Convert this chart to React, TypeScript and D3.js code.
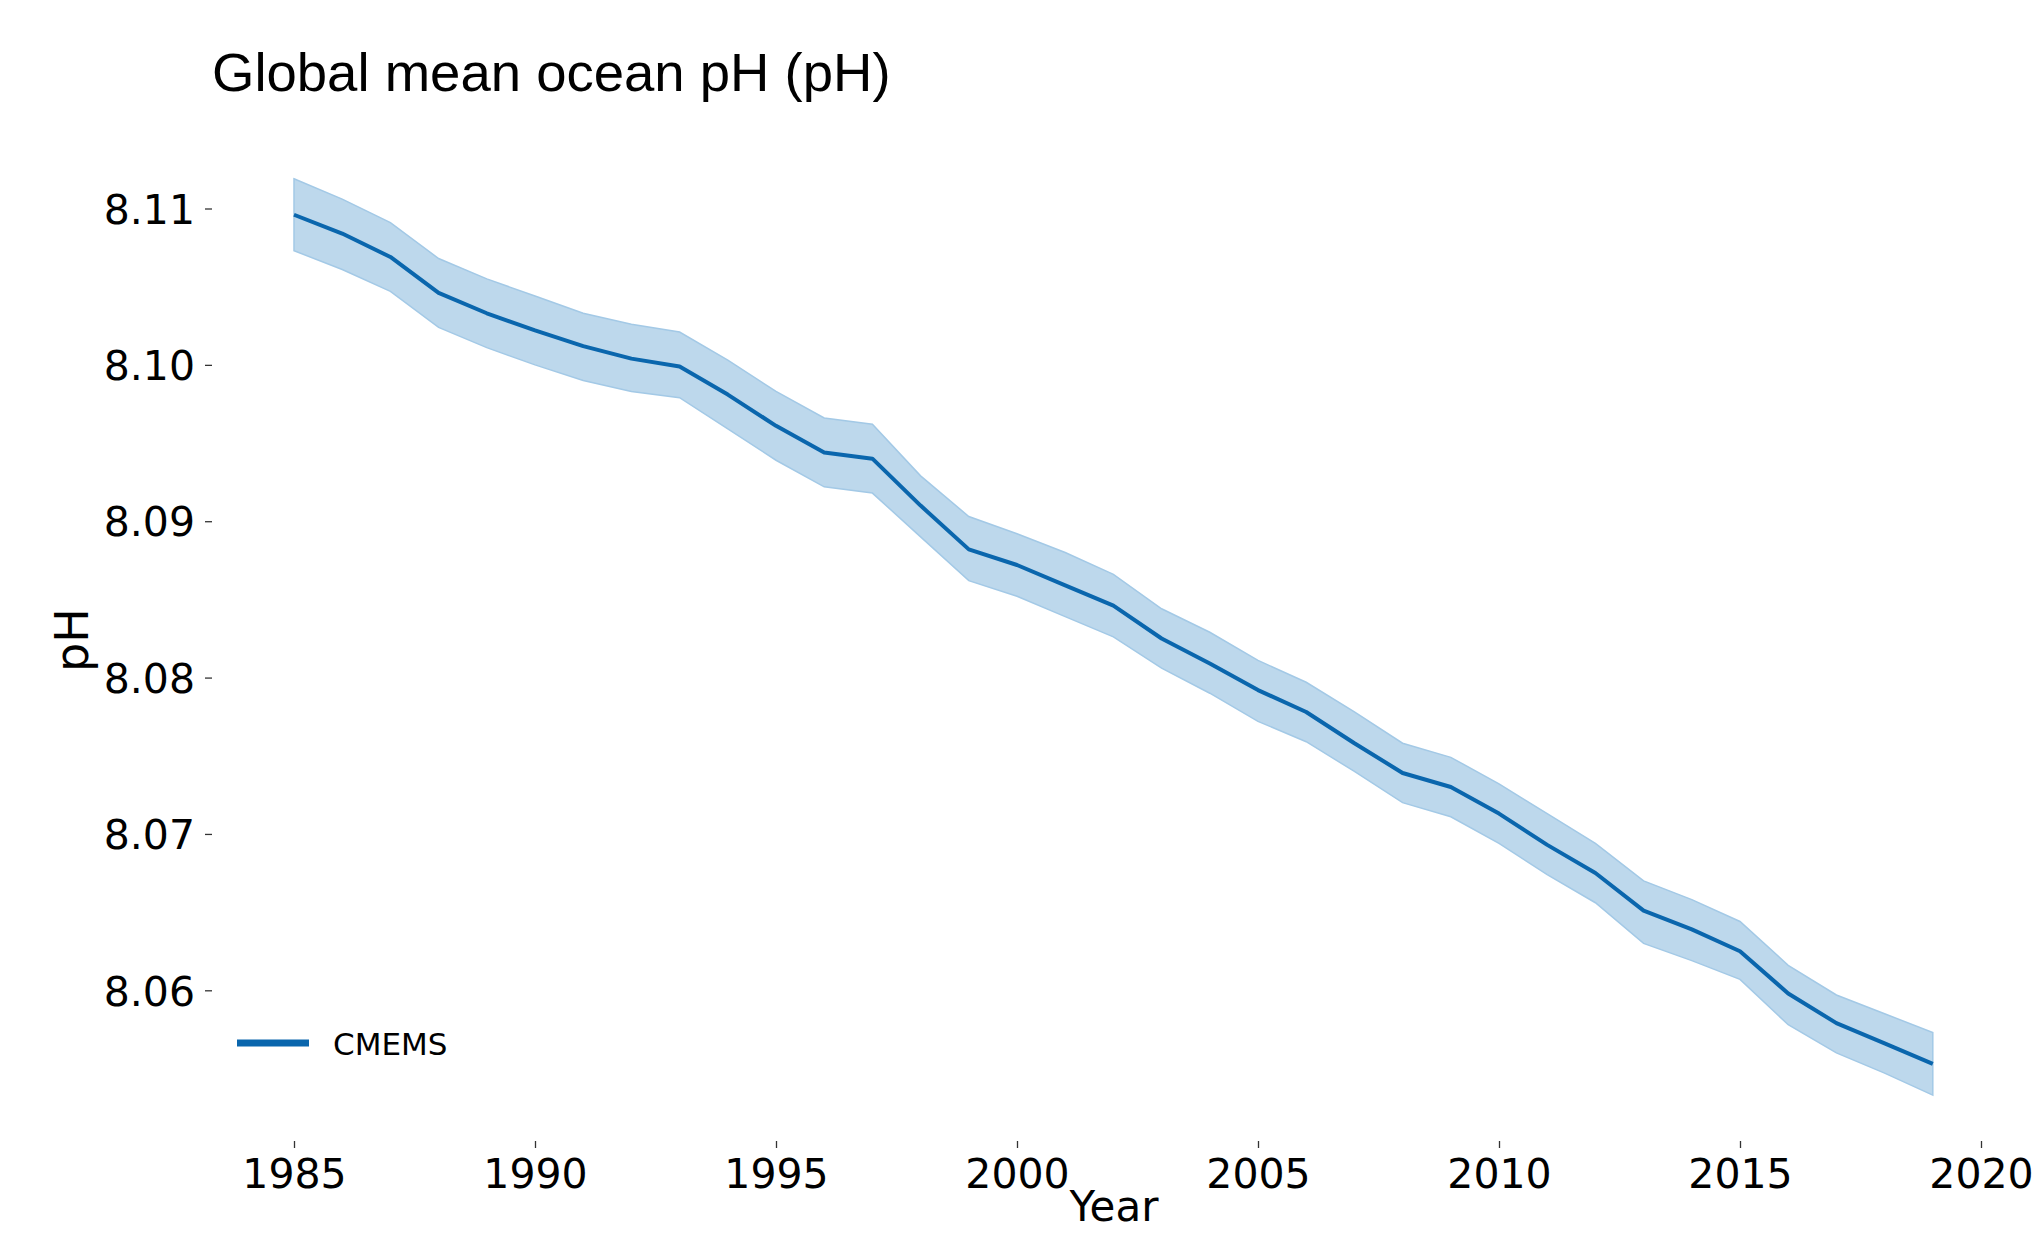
import React, { useEffect, useRef } from 'react';
import * as d3 from 'd3';

const W = 2043;
const H = 1233;

// global mean ocean pH, CMEMS, with uncertainty envelope
const years = [
  1985, 1986, 1987, 1988, 1989, 1990, 1991, 1992, 1993, 1994, 1995, 1996,
  1997, 1998, 1999, 2000, 2001, 2002, 2003, 2004, 2005, 2006, 2007, 2008,
  2009, 2010, 2011, 2012, 2013, 2014, 2015, 2016, 2017, 2018, 2019,
];
const phMean = [
  8.1096, 8.1084, 8.1069, 8.1046, 8.1033, 8.1022, 8.1012, 8.1004, 8.0999, 8.0981, 8.0961, 8.0944,
  8.094, 8.091, 8.0882, 8.0872, 8.0859, 8.0846, 8.0825, 8.0809, 8.0792, 8.0778, 8.0758, 8.0739,
  8.073, 8.0713, 8.0693, 8.0675, 8.0651, 8.0639, 8.0625, 8.0598, 8.0579, 8.0566, 8.0553,
];
const phUpper = [
  8.1119, 8.1106, 8.1091, 8.1068, 8.1055, 8.1044, 8.1033, 8.1026, 8.1021, 8.1003, 8.0983, 8.0966,
  8.0962, 8.0929, 8.0903, 8.0892, 8.088, 8.0866, 8.0844, 8.0829, 8.0811, 8.0797, 8.0778, 8.0758,
  8.0749, 8.0732, 8.0713, 8.0694, 8.067, 8.0658, 8.0644, 8.0616, 8.0597, 8.0585, 8.0573,
];
const phLower = [
  8.1073, 8.1061, 8.1047, 8.1024, 8.1011, 8.1, 8.099, 8.0983, 8.0979, 8.0959, 8.0939, 8.0922,
  8.0918, 8.089, 8.0862, 8.0852, 8.0839, 8.0826, 8.0806, 8.079, 8.0772, 8.0759, 8.074, 8.072,
  8.0711, 8.0694, 8.0674, 8.0656, 8.063, 8.0619, 8.0607, 8.0578, 8.056, 8.0547, 8.0533,
];
const xTicks = [1985, 1990, 1995, 2000, 2005, 2010, 2015, 2020];
const yTicks = [8.06, 8.07, 8.08, 8.09, 8.1, 8.11];

const LINE = '#0a66ad';
const TICK_FONT = 'DejaVu Sans, sans-serif';

export default function App() {
  const ref = useRef<SVGSVGElement>(null);

  useEffect(() => {
    if (!ref.current) return;
    const svg = d3.select(ref.current);
    svg.selectAll('*').remove();

    const x = d3.scaleLinear().domain([1985, 2020]).range([294, 1981]);
    const y = d3.scaleLinear().domain([8.06, 8.11]).range([990.3, 208.5]);

    const rows = years.map((yr, i) => ({ yr, m: phMean[i], hi: phUpper[i], lo: phLower[i] }));

    // band
    const area = d3.area<typeof rows[0]>()
      .x((d) => x(d.yr))
      .y0((d) => y(d.lo))
      .y1((d) => y(d.hi));
    svg.append('path')
      .attr('d', area(rows) ?? '')
      .attr('fill', '#bdd8ec')
      .attr('stroke', '#a3c9e6')
      .attr('stroke-width', 1.5);

    const line = d3.line<typeof rows[0]>().x((d) => x(d.yr)).y((d) => y(d.m));
    svg.append('path')
      .attr('d', line(rows) ?? '')
      .attr('fill', 'none')
      .attr('stroke', LINE)
      .attr('stroke-width', 4)
      .attr('stroke-linejoin', 'round');

    // axes, no spines
    const xAxis = svg.append('g')
      .attr('transform', 'translate(0,1141)')
      .call(d3.axisBottom(x).tickValues(xTicks).tickFormat(d3.format('d')).tickSize(7).tickPadding(11));
    const yAxis = svg.append('g')
      .attr('transform', 'translate(212,0)')
      .call(d3.axisLeft(y).tickValues(yTicks).tickFormat(d3.format('.2f')).tickSize(7).tickPadding(10));

    [xAxis, yAxis].forEach((ax) => {
      ax.select('.domain').remove();
      ax.selectAll('line').attr('stroke', '#333').attr('stroke-width', 1.3);
      ax.selectAll('text')
        .attr('fill', '#000')
        .attr('font-family', TICK_FONT)
        .attr('font-size', 41);
    });
    yAxis.selectAll('text').attr('dy', '0.36em');

    // labels
    svg.append('text')
      .attr('x', 212).attr('y', 91)
      .attr('font-family', 'Liberation Sans, Arial, sans-serif')
      .attr('font-size', 54.5)
      .text('Global mean ocean pH (pH)');

    svg.append('text')
      .attr('x', 1114).attr('y', 1221)
      .attr('text-anchor', 'middle')
      .attr('font-family', TICK_FONT)
      .attr('font-size', 42)
      .text('Year');

    svg.append('text')
      .attr('transform', 'translate(88,640) rotate(-90)')
      .attr('text-anchor', 'middle')
      .attr('font-family', TICK_FONT)
      .attr('font-size', 46)
      .text('pH');

    // legend
    const lg = svg.append('g');
    lg.append('line')
      .attr('x1', 237).attr('x2', 309).attr('y1', 1043).attr('y2', 1043)
      .attr('stroke', LINE).attr('stroke-width', 7);
    lg.append('text')
      .attr('x', 333).attr('y', 1055)
      .attr('font-family', TICK_FONT)
      .attr('font-size', 31)
      .text('CMEMS');
  }, []);

  return (
    <svg
      ref={ref}
      width={W}
      height={H}
      style={{ position: 'absolute', left: 0, top: 0, background: '#fff', display: 'block' }}
    />
  );
}
